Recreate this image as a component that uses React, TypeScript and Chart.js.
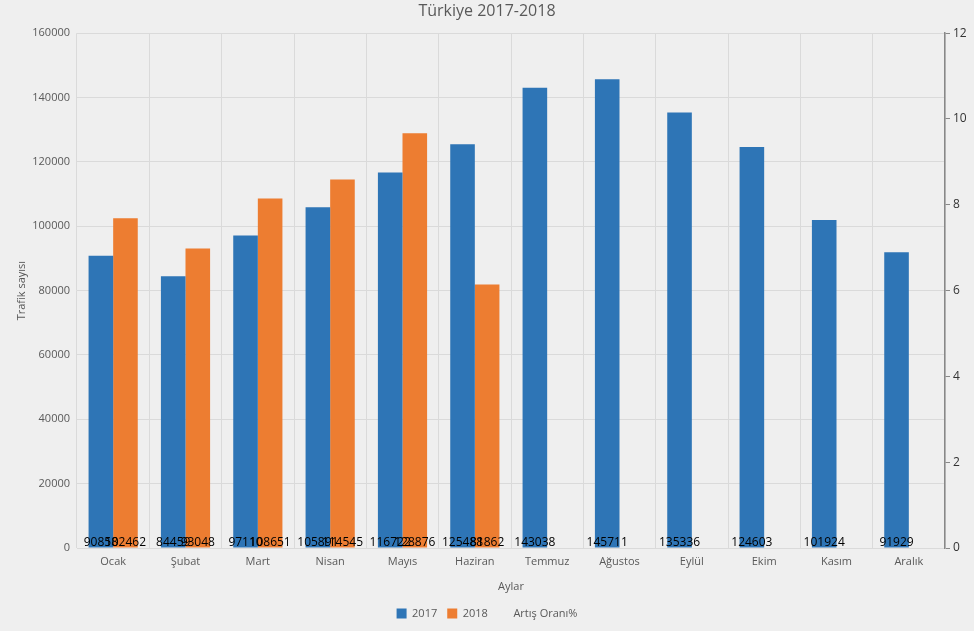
import React, { useEffect, useRef } from "react";
import { Chart, registerables } from "chart.js";

Chart.register(...registerables);

const months = ["Ocak", "Şubat", "Mart", "Nisan", "Mayıs", "Haziran", "Temmuz", "Ağustos", "Eylül", "Ekim", "Kasım", "Aralık"];
const traffic2017 = [90858, 84459, 97110, 105891, 116722, 125488, 143038, 145711, 135336, 124603, 101924, 91929];
const traffic2018 = [102462, 93048, 108651, 114545, 128876, 81862, null, null, null, null, null, null];
const growthRate: (number | null)[] = [null, null, null, null, null, null, null, null, null, null, null, null];

const FONT = "'Open Sans', 'Noto Sans', sans-serif";
const GRAY = "#595959";
const GRID = "#dadada";

const barLabels = {
  id: "barLabels",
  afterDatasetsDraw(chart: any) {
    const ctx = chart.ctx;
    const bottom = chart.chartArea.bottom;
    ctx.save();
    ctx.font = `12px ${FONT}`;
    ctx.fillStyle = "#000";
    ctx.textAlign = "center";
    ctx.textBaseline = "alphabetic";
    [0, 1].forEach((di) => {
      const meta = chart.getDatasetMeta(di);
      const ds = chart.data.datasets[di];
      meta.data.forEach((el: any, i: number) => {
        const v = ds.data[i];
        if (v == null) return;
        ctx.fillText(String(v), el.x, bottom - 2);
      });
    });
    ctx.restore();
  },
};

export default function App() {
  const ref = useRef<HTMLCanvasElement>(null);
  useEffect(() => {
    if (!ref.current) return;
    const chart = new Chart(ref.current, {
      type: "bar",
      data: {
        labels: months,
        datasets: [
          { type: "bar", label: "2017", data: traffic2017, backgroundColor: "#2e75b6", yAxisID: "y", categoryPercentage: 0.68, barPercentage: 1 },
          { type: "bar", label: "2018", data: traffic2018, backgroundColor: "#ed7d31", yAxisID: "y", categoryPercentage: 0.68, barPercentage: 1 },
          { type: "line", label: "Artış Oranı%", data: growthRate, borderColor: "transparent", backgroundColor: "transparent", yAxisID: "y1", pointRadius: 0 },
        ] as any,
      },
      options: {
        animation: false,
        responsive: false,
        maintainAspectRatio: false,
        layout: { padding: { top: 0, left: 0, right: 0, bottom: 2 } },
        plugins: {
          title: {
            display: true,
            text: "Türkiye 2017-2018",
            color: GRAY,
            font: { family: FONT, size: 16, weight: "normal" },
            padding: { top: 2, bottom: 12 },
          },
          legend: {
            position: "bottom",
            labels: { boxWidth: 10, boxHeight: 10, padding: 10, color: GRAY, font: { family: FONT, size: 11 } },
          },
          tooltip: { enabled: false },
        },
        scales: {
          x: {
            grid: { color: GRID, drawTicks: false, offset: true },
            border: { color: GRID },
            ticks: { color: GRAY, font: { family: FONT, size: 11 }, padding: 7 },
            title: { display: true, text: "Aylar", color: GRAY, font: { family: FONT, size: 11 }, padding: { top: 0, bottom: 5 } },
            afterFit: (s: any) => { s.height = 50; },
          },
          y: {
            position: "left",
            min: 0,
            max: 160000,
            ticks: { stepSize: 20000, color: GRAY, font: { family: FONT, size: 11 }, padding: 7, callback: (v: any) => String(v) },
            grid: { color: GRID, drawTicks: false },
            border: { display: false },
            title: { display: true, text: "Trafik sayısı", color: GRAY, font: { family: FONT, size: 11 }, padding: { top: 15, bottom: 0 } },
            afterFit: (s: any) => { s.width = 77; },
          },
          y1: {
            position: "right",
            min: 0,
            max: 12,
            ticks: { stepSize: 2, color: "#333", font: { family: FONT, size: 12 }, padding: 3, callback: (v: any) => String(v) },
            grid: { drawOnChartArea: false, drawTicks: true, tickLength: 5, color: "#888" },
            border: { display: true, color: "#888", width: 1.5 },
            afterFit: (s: any) => { s.width = 29; },
          },
        },
      } as any,
      plugins: [barLabels],
    });
    return () => chart.destroy();
  }, []);
  return (
    <div style={{ position: "fixed", left: 0, top: 0, width: 974, height: 631, background: "#efefef" }}>
      <canvas ref={ref} width={974} height={631} style={{ width: 974, height: 631, display: "block" }} />
    </div>
  );
}
